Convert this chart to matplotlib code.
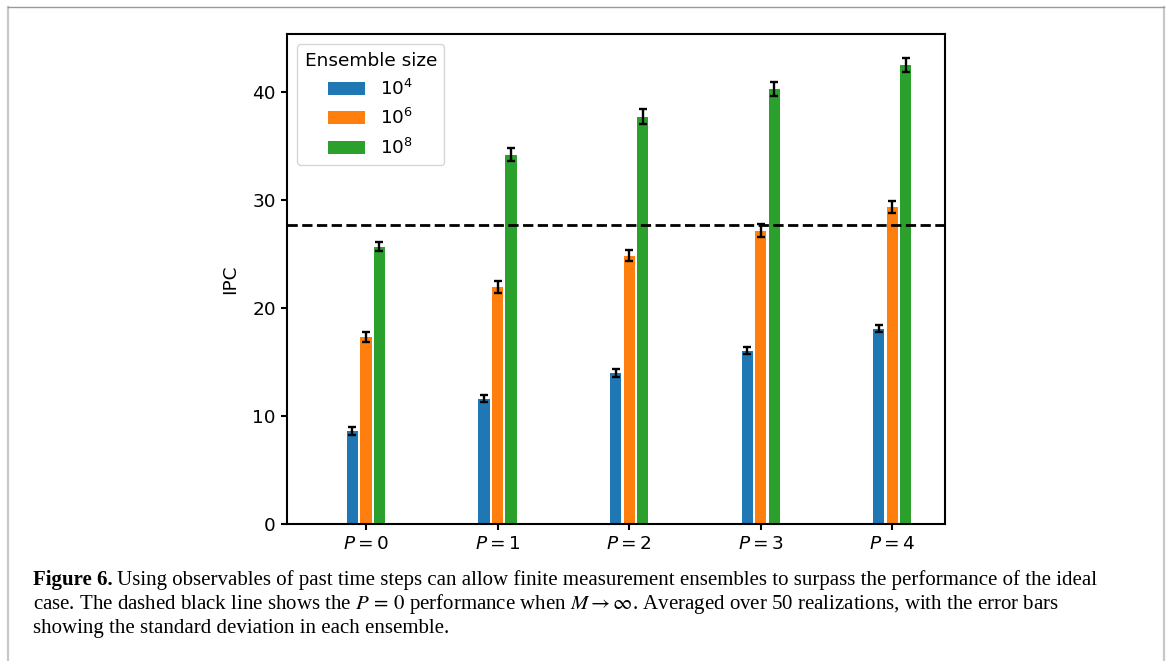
import matplotlib
matplotlib.use("Agg")
import matplotlib.pyplot as plt
from matplotlib.lines import Line2D
import numpy as np

# ---- data ----
categories = ["$P = 0$", "$P = 1$", "$P = 2$", "$P = 3$", "$P = 4$"]
series_labels = ["$10^4$", "$10^6$", "$10^8$"]
ipc_1e4 = [8.64, 11.62, 13.98, 16.09, 18.13]
ipc_1e6 = [17.37, 21.97, 24.86, 27.20, 29.35]
ipc_1e8 = [25.70, 34.24, 37.76, 40.30, 42.53]
err_1e4 = [0.33, 0.33, 0.36, 0.35, 0.35]
err_1e6 = [0.45, 0.53, 0.50, 0.57, 0.56]
err_1e8 = [0.40, 0.60, 0.68, 0.68, 0.68]
ideal_ipc = 27.73
legend_title = "Ensemble size"
ylabel = "IPC"

W, H = 1167, 661
dpi = 100
fig = plt.figure(figsize=(W / dpi, H / dpi), dpi=dpi)
fig.patch.set_facecolor("white")

ax = fig.add_axes([287 / W, 1 - 524.3 / H, (945 - 287) / W, (524.3 - 34) / H])

colors = ["#1f77b4", "#ff7f0e", "#2ca02c"]
x = np.arange(len(categories))
offsets = [-0.1025, 0.0, 0.1025]
width = 0.085
for vals, errs, c, off, lab in zip([ipc_1e4, ipc_1e6, ipc_1e8],
                                   [err_1e4, err_1e6, err_1e8],
                                   colors, offsets, series_labels):
    ax.bar(x + off, vals, width=width, color=c, label=lab, zorder=2)
    ax.errorbar(x + off, vals, yerr=errs, fmt="none", ecolor="black",
                elinewidth=1.7, capsize=3, capthick=1.7, zorder=3)

ax.axhline(ideal_ipc, color="black", linestyle="--", linewidth=2, zorder=4)

ax.set_xlim(-0.6, 4.4)
ax.set_ylim(0, 45.4)
ax.set_xticks(x)
ax.set_xticklabels(categories)
ax.set_yticks([0, 10, 20, 30, 40])
ax.tick_params(labelsize=13.3, width=1.5, length=4.5)
for s in ax.spines.values():
    s.set_linewidth(1.5)
ax.set_ylabel(ylabel, fontsize=13.3)
ax.yaxis.set_label_coords(-0.072, 0.5)

leg = ax.legend(title=legend_title, loc="upper left", fontsize=13.3,
                title_fontsize=13.3, handlelength=2.0, borderaxespad=0.55)

# ---- figure border ----
fig.add_artist(Line2D([7.5 / W, 7.5 / W], [0, 1 - 6.5 / H], transform=fig.transFigure,
                      color="#c8c8c8", linewidth=1.6))
fig.add_artist(Line2D([1163.5 / W, 1163.5 / W], [0, 1 - 6.5 / H], transform=fig.transFigure,
                      color="#c8c8c8", linewidth=1.6))
fig.add_artist(Line2D([7.5 / W, 1163.5 / W], [1 - 6.5 / H, 1 - 6.5 / H], transform=fig.transFigure,
                      color="#999999", linewidth=1.0))

# ---- caption ----
cap_fs = 15.0
serif = "Liberation Serif"
x0 = 33 / W
lines_y = [585 / H, 609 / H, 633 / H]
t_bold = fig.text(x0, 1 - lines_y[0], "Figure 6.", fontsize=cap_fs, family=serif,
                  weight="bold", va="baseline", math_fontfamily="stix")
fig.canvas.draw()
r = fig.canvas.get_renderer()
bb = t_bold.get_window_extent(r)
x1 = (bb.x1 + 4) / W
fig.text(x1, 1 - lines_y[0],
         "Using observables of past time steps can allow finite measurement ensembles to surpass the performance of the ideal",
         fontsize=cap_fs, family=serif, va="baseline", math_fontfamily="stix")
fig.text(x0, 1 - lines_y[1],
         r"case. The dashed black line shows the $P\,=\,0$ performance when $M \to \infty$. Averaged over 50 realizations, with the error bars",
         fontsize=cap_fs, family=serif, va="baseline", math_fontfamily="stix")
fig.text(x0, 1 - lines_y[2],
         "showing the standard deviation in each ensemble.",
         fontsize=cap_fs, family=serif, va="baseline", math_fontfamily="stix")

fig.savefig("out.png", dpi=dpi, facecolor="white")
